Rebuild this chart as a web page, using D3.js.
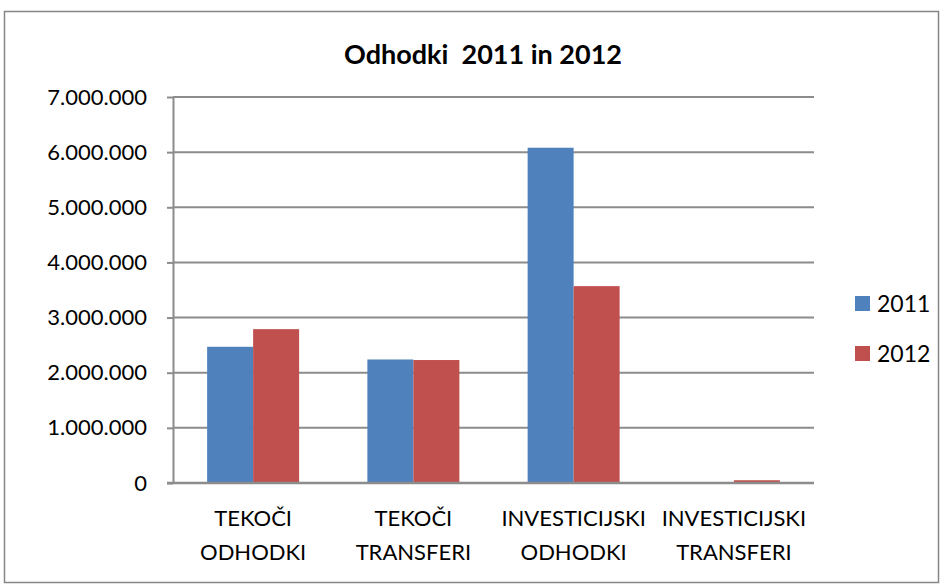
<!DOCTYPE html>
<html>
<head>
<meta charset="utf-8">
<script src="https://cdn.jsdelivr.net/npm/d3@7"></script>
<style>
  body { margin: 0; background: #fff; }
  svg text { font-family: Lato, "Open Sans", sans-serif; fill: #000; }
</style>
</head>
<body>
<div id="viz"></div>
<script>
// chart data
const categories = [['TEKOČI', 'ODHODKI'], ['TEKOČI', 'TRANSFERI'], ['INVESTICIJSKI', 'ODHODKI'], ['INVESTICIJSKI', 'TRANSFERI']];
const years = ['2011', '2012'];
const values2011 = [2470000, 2240000, 6080000, 0];
const values2012 = [2790000, 2230000, 3570000, 50000];
const yTicks = [0, 1000000, 2000000, 3000000, 4000000, 5000000, 6000000, 7000000];
const chartTitle = 'Odhodki  2011 in 2012';

const width = 943;
const height = 587;
const margin = { top: 97, right: 129, bottom: 104, left: 173 };
const colors = ['#4F81BD', '#C0504D'];

const svg = d3.select('#viz').append('svg')
  .attr('width', width)
  .attr('height', height);

// outer frame
svg.append('rect')
  .attr('x', 4.5).attr('y', 11.5)
  .attr('width', 934).attr('height', 571)
  .style('fill', 'white')
  .style('stroke', '#868686')
  .style('stroke-width', 1.5);

svg.append('text')
  .attr('x', 483)
  .attr('y', 64)
  .attr('text-anchor', 'middle')
  .style('font-size', '27px')
  .style('font-weight', 'bold')
  .style('white-space', 'pre')
  .text(chartTitle);

const x0 = d3.scaleBand()
  .domain(d3.range(categories.length))
  .range([margin.left, width - margin.right])
  .paddingInner(0.426)
  .paddingOuter(0.213);

const x1 = d3.scaleBand()
  .domain(years)
  .range([0, x0.bandwidth()]);

const yScale = d3.scaleLinear()
  .domain([0, 7000000])
  .range([height - margin.bottom, margin.top]);

const fmt = d => d3.format(',')(d).replace(/,/g, '.');

// gridlines
svg.append('g')
  .selectAll('line')
  .data(yTicks.filter(d => d > 0))
  .enter().append('line')
  .attr('x1', margin.left)
  .attr('x2', width - margin.right)
  .attr('y1', d => yScale(d))
  .attr('y2', d => yScale(d))
  .style('stroke', '#8c8c8c')
  .style('stroke-width', 2);

// bars
const series = [values2011, values2012];
const groups = svg.append('g')
  .selectAll('g')
  .data(categories.map((c, i) => i))
  .enter().append('g')
  .attr('transform', i => `translate(${x0(i)},0)`);

groups.selectAll('rect')
  .data(i => years.map((yr, j) => ({ year: yr, j: j, value: series[j][i] })))
  .enter().append('rect')
  .attr('x', d => x1(d.year))
  .attr('width', x1.bandwidth())
  .attr('y', d => yScale(d.value))
  .attr('height', d => yScale(0) - yScale(d.value))
  .style('fill', d => colors[d.j]);

// y axis
const yAxis = svg.append('g')
  .attr('transform', `translate(${margin.left},0)`)
  .call(d3.axisLeft(yScale).tickValues(yTicks).tickFormat(fmt).tickSize(6).tickPadding(20));
yAxis.selectAll('path, line').style('stroke', '#8c8c8c').style('stroke-width', 2);
yAxis.selectAll('text').style('font-size', '22px').style('font-family', 'Lato, sans-serif');
yAxis.select('.domain').attr('d', `M0.5,${yScale(7000000)}V${yScale(0)}`);

// x axis
svg.append('line')
  .attr('x1', margin.left - 6)
  .attr('x2', width - margin.right)
  .attr('y1', yScale(0))
  .attr('y2', yScale(0))
  .style('stroke', '#8c8c8c')
  .style('stroke-width', 2.5);

const xLabels = svg.append('g')
  .selectAll('text')
  .data(categories)
  .enter().append('text')
  .attr('text-anchor', 'middle')
  .attr('transform', (d, i) => `translate(${x0(i) + x0.bandwidth() / 2},0)`)
  .style('font-size', '22px');

xLabels.selectAll('tspan')
  .data(d => d)
  .enter().append('tspan')
  .attr('x', 0)
  .attr('y', (d, k) => 526 + k * 34)
  .text(d => d);

// legend
const legend = svg.append('g')
  .attr('class', 'legend');

const legendItem = legend.selectAll('.legend-item')
  .data(years)
  .enter().append('g')
  .attr('class', 'legend-item')
  .attr('transform', (d, i) => `translate(855, ${296 + i * 50})`);

legendItem.append('rect')
  .attr('width', 15)
  .attr('height', 15)
  .style('fill', (d, i) => colors[i]);

legendItem.append('text')
  .attr('x', 22)
  .attr('y', 15.5)
  .text(d => d)
  .style('font-size', '23px');
</script>
</body>
</html>
